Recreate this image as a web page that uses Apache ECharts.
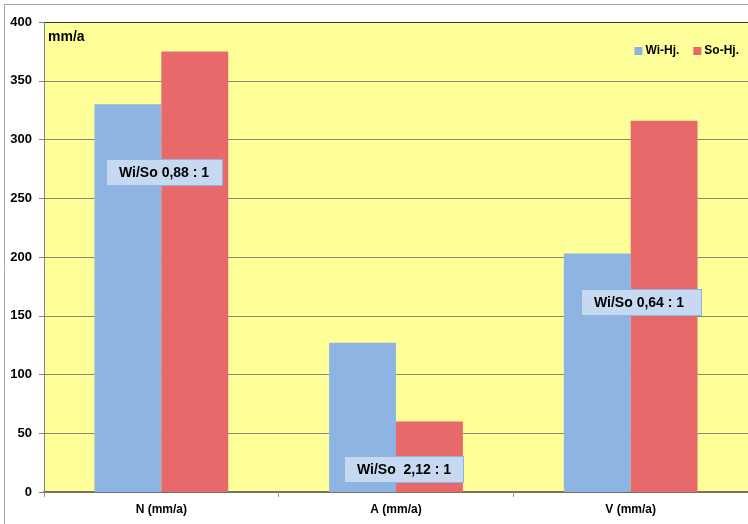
<!DOCTYPE html>
<html>
<head>
<meta charset="utf-8">
<script src="https://cdn.jsdelivr.net/npm/echarts@6/dist/echarts.min.js"></script>
<style>
  html, body { margin: 0; padding: 0; background: #fff; }
  #chart { width: 748px; height: 524px; }
</style>
</head>
<body>
<div id="chart"></div>
<script>
const categories = ['N (mm/a)', 'A (mm/a)', 'V (mm/a)'];
const winter = [330, 127, 203];
const summer = [375, 60, 316];
const yTicks = [0, 400, 50];
const ratios = ['Wi/So 0,88 : 1', 'Wi/So  2,12 : 1', 'Wi/So 0,64 : 1'];

const myChart = echarts.init(document.getElementById('chart'));
const boxStyle = (text, x, y, w) => ({
  type: 'text',
  left: x,
  top: y,
  z: 100,
  style: {
    text: text,
    font: 'bold 14px "Liberation Sans", Arial, sans-serif',
    fill: '#000',
    backgroundColor: '#C6D9F1',
    borderColor: '#8EB4E3',
    borderWidth: 1,
    width: w,
    align: 'left',
    padding: [6, 10, 5, 12]
  }
});

// top gridline darker (plot border)
const splitColors = [];
for (let i = yTicks[0]; i < yTicks[1]; i += yTicks[2]) splitColors.push('#8a8a7a');
splitColors.push('#333');

const option = {
  animation: false,
  grid: {
    left: 44, right: -3, top: 22, bottom: 32,
    show: true,
    backgroundColor: '#FFFF99',
    borderWidth: 0
  },
  legend: {
    right: 4,
    top: 40,
    itemWidth: 8,
    itemHeight: 8,
    itemGap: 14,
    icon: 'rect',
    textStyle: { fontFamily: '"Liberation Sans", Arial', fontWeight: 'bold', fontSize: 12, color: '#000', padding: [0, 0, 0, -2] },
    data: ['Wi-Hj.', 'So-Hj.']
  },
  xAxis: {
    type: 'category',
    data: categories,
    axisLine: { lineStyle: { color: '#75755a', width: 2 } },
    axisTick: { show: true, length: 5, lineStyle: { color: '#999' } },
    axisLabel: {
      margin: 12,
      color: '#000',
      fontWeight: 'bold',
      fontSize: 12,
      fontFamily: '"Liberation Sans Narrow", "Arial Narrow", "Liberation Sans", sans-serif'
    }
  },
  yAxis: {
    type: 'value',
    min: yTicks[0],
    max: yTicks[1],
    interval: yTicks[2],
    axisLine: { show: true, lineStyle: { color: '#808080', width: 1 } },
    axisTick: { show: true, length: 5, lineStyle: { color: '#808080' } },
    splitLine: { lineStyle: { color: splitColors, width: 1 } },
    axisLabel: {
      margin: 12,
      color: '#000',
      fontWeight: 'bold',
      fontSize: 13,
      fontFamily: '"Liberation Sans", Arial, sans-serif'
    }
  },
  series: [
    {
      name: 'Wi-Hj.',
      type: 'bar',
      data: winter,
      barGap: '0%',
      barCategoryGap: '43%',
      itemStyle: { color: '#8EB4E3' }
    },
    {
      name: 'So-Hj.',
      type: 'bar',
      data: summer,
      barGap: '0%',
      barCategoryGap: '43%',
      itemStyle: { color: '#E8696A' }
    }
  ],
  graphic: [
    {
      type: 'polyline',
      z: 0,
      shape: { points: [[4.5, 524], [4.5, 4.5], [748, 4.5]] },
      style: { fill: 'none', stroke: '#A6A6A6', lineWidth: 1 }
    },
    {
      type: 'text', left: 48, top: 30, z: 100,
      style: { text: 'mm/a', font: 'bold 14px "Liberation Sans", Arial, sans-serif', fill: '#000' }
    },
    boxStyle(ratios[0], 106, 159, 93),
    boxStyle(ratios[1], 344, 456, 96),
    boxStyle(ratios[2], 581, 289, 97)
  ]
};
myChart.setOption(option);
</script>
</body>
</html>
